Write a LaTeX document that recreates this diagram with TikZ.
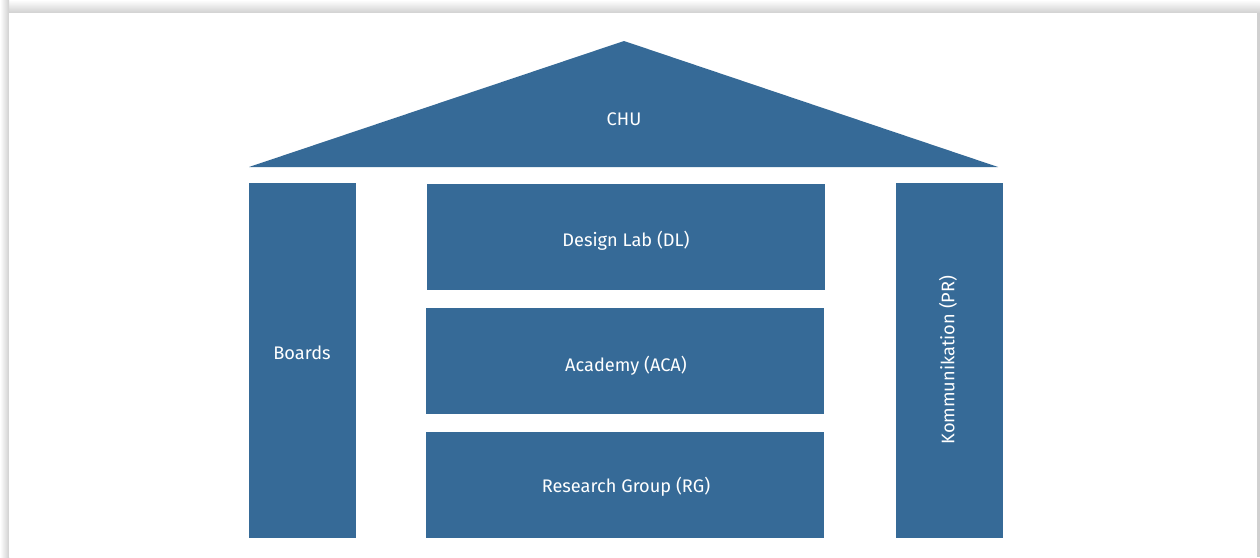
\documentclass[tikz,border=0pt]{standalone}
\usepackage{fontspec}
\setmainfont{Fira Sans}
\definecolor{chublue}{RGB}{54,106,151}
\definecolor{shadowgray}{RGB}{208,208,208}
\begin{document}
\begin{tikzpicture}[x=1pt,y=-1pt,
  blk/.style={fill=chublue,draw=none,inner sep=0pt},
  lbl/.style={text=white,font=\fontsize{18.2}{21}\selectfont,inner sep=0pt}]
\useasboundingbox (0,0) rectangle (1260,557);
% card shadow
\fill[white] (0,0) rectangle (1260,557);
\shade[top color=white,bottom color=shadowgray] (0,0) rectangle (1260,13);
\shade[left color=white,right color=shadowgray] (0,0) rectangle (9,557);
\fill[shadowgray] (1257,13) rectangle (1260,557);
\fill[white] (9,13) rectangle (1257,557);
% roof
\coordinate (apex) at (624,41);
\coordinate (bl) at (249,167);
\coordinate (br) at (998,167);
\fill[chublue] (apex) -- (br) -- (bl) -- cycle;
\node[lbl] (chu) at (624,119) {CHU};
% pillars
\node[blk,minimum width=107pt,minimum height=355pt] (boards) at (302.5,360.5) {};
\node[lbl] (boardst) at (302,353) {Boards};
\node[blk,minimum width=107pt,minimum height=355pt] (pr) at (949.5,360.5) {};
\node[lbl,rotate=90] (prt) at (948,360) {Kommunikation (PR)};
% center blocks
\node[blk,minimum width=398pt,minimum height=106pt] (dl) at (626,237) {};
\node[lbl] (dlt) at (626,241) {Design Lab (DL)};
\node[blk,minimum width=398pt,minimum height=106pt] (aca) at (625,361) {};
\node[lbl] (acat) at (626,366) {Academy (ACA)};
\node[blk,minimum width=398pt,minimum height=106pt] (rg) at (625,485) {};
\node[lbl] (rgt) at (626,487) {Research Group (RG)};
\end{tikzpicture}
\end{document}
